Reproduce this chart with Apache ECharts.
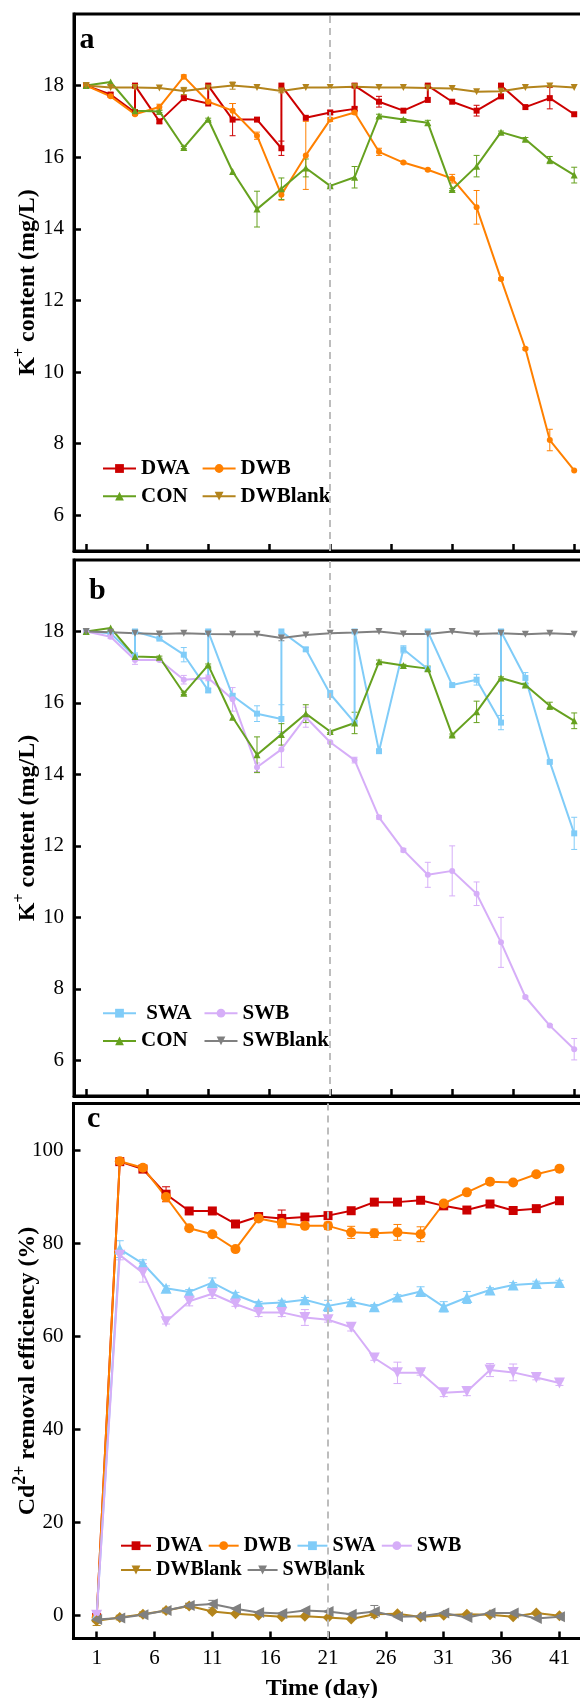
<!DOCTYPE html>
<html><head><meta charset="utf-8">
<script src="https://cdn.jsdelivr.net/npm/echarts@6/dist/echarts.min.js"></script>
<style>html,body{margin:0;padding:0;overflow:hidden;background:#fff}#c{width:640px;height:1698px}</style>
</head><body><div id="c"></div>
<script>
// ---------- DATA ----------
const days = [1,3,5,7,9,11,13,15,17,19,21,23,25,27,29,31,33,35,37,39,41];
// DWA and SWA are replenished on days 5, 11, 17, 23, 29, 35 (value before, then 18 after)
const sawDays = [1,3,5,5,7,9,11,11,13,15,17,17,19,21,23,23,25,27,29,29,31,33,35,35,37,39,41];
const xTicks = [1,6,11,16,21,26,31,36,41];
const kTicks = [6,8,10,12,14,16,18];
const cdTicks = [0,20,40,60,80,100];

// Panel a (K+ content, mg/L)
const dwaK    = [18.0,17.75,17.25,18.0,17.0,17.65,17.5,18.0,17.05,17.05,16.25,18.0,17.1,17.25,17.35,18.0,17.55,17.3,17.6,18.0,17.55,17.3,17.7,18.0,17.4,17.65,17.2];
const dwaKErr = [0,0.05,0,0,0.05,0.05,0,0,0.45,0.05,0.2,0,0,0.05,0.05,0,0.15,0,0,0,0,0.15,0,0,0,0.3,0];
const dwbK    = [18.0,17.7,17.2,17.4,18.25,17.55,17.3,16.6,14.95,16.05,17.05,17.25,16.15,15.85,15.65,15.4,14.6,12.6,10.65,8.1,7.25];
const dwbKErr = [0,0.03,0.03,0.08,0.05,0.05,0.2,0.1,0.15,0.95,0.05,0.05,0.1,0.03,0.03,0.12,0.47,0.03,0.03,0.3,0];
const conK    = [18.0,18.1,17.3,17.28,16.27,17.06,15.6,14.55,15.12,15.7,15.2,15.44,17.15,17.05,16.96,15.1,15.75,16.7,16.5,15.92,15.5];
const conKErr = [0,0,0.03,0.03,0.03,0.03,0,0.5,0.3,0.25,0.03,0.3,0.05,0.03,0.07,0.03,0.3,0.03,0.05,0.1,0.22];
const dwBlankK    = [18.0,17.95,17.95,17.93,17.85,17.93,18.0,17.95,17.85,17.95,17.95,17.97,17.95,17.95,17.93,17.92,17.83,17.84,17.95,17.99,17.95];
const dwBlankKErr = [0,0,0,0,0.1,0,0.1,0,0.05,0,0,0,0,0,0,0,0,0,0,0,0];

// Panel b (K+ content, mg/L)
const swaK    = [18.0,17.95,17.3,18.0,17.8,17.35,16.35,18.0,16.2,15.7,15.55,18.0,17.5,16.25,15.45,18.0,14.65,17.5,16.95,18.0,16.5,16.65,15.45,18.0,16.7,14.35,12.35];
const swaKErr = [0,0.03,0.1,0,0.03,0.2,0.05,0,0.05,0.22,0.4,0,0.05,0.1,0.05,0,0,0.1,0.05,0,0.03,0.15,0.2,0,0.15,0.03,0.45];
const swbK    = [18.0,17.85,17.2,17.2,16.65,16.7,16.1,14.2,14.7,15.6,14.9,14.4,12.8,11.88,11.19,11.3,10.66,9.3,7.77,6.97,6.31];
const swbKErr = [0,0.05,0.12,0.03,0.12,0.08,0.33,0.12,0.5,0.28,0.03,0.08,0.05,0.05,0.35,0.7,0.33,0.7,0.03,0.03,0.3];
const swBlankK    = [18.0,17.98,17.95,17.93,17.95,17.93,17.92,17.92,17.82,17.9,17.95,17.97,18.0,17.93,17.93,18.0,17.93,17.95,17.92,17.95,17.92];
const swBlankKErr = [0,0,0,0,0,0,0,0,0.08,0,0,0,0,0,0,0,0,0,0,0,0];

// Panel c (Cd2+ removal efficiency, %)
const dwaCd    = [-0.5,97.5,95.9,90.5,86.9,86.9,84.1,85.7,85.3,85.6,85.9,86.95,88.8,88.8,89.2,88.0,87.1,88.4,87.0,87.4,89.1];
const dwaCdErr = [0.5,0.5,0.5,1.6,0,0,0,0,1.8,0,0,0,0,0,0,0,0,0,0,0,0];
const dwbCd    = [-0.5,97.6,96.2,89.9,83.2,81.9,78.7,85.3,84.3,83.7,83.7,82.3,82.1,82.3,81.9,88.5,90.9,93.2,93.0,94.8,96.0];
const dwbCdErr = [0,0,0,1.0,0,0.5,0,0,1.0,0,0.8,1.3,0.9,1.7,1.6,0,0,0,0,0,0];
const swaCd    = [0,78.7,75.6,70.3,69.5,71.5,68.9,66.95,67.2,67.8,66.5,67.4,66.3,68.4,69.6,66.3,68.3,69.9,71.0,71.3,71.5];
const swaCdErr = [0.5,1.8,0.8,0.5,0.5,1.0,0.5,0.5,0.5,0.5,1.2,0.5,0.5,0.5,1.0,1.1,1.3,0.5,0.5,0.5,0.5];
const swbCd    = [0,77.4,73.6,63.1,67.5,69.1,66.9,65.1,65.1,64.0,63.5,61.9,55.3,52.1,52.1,47.8,48.1,52.7,52.2,51.1,49.9];
const swbCdErr = [0.5,1.0,2.0,0.5,1.0,1.0,0.5,0.9,0.9,1.7,0.5,0.8,0.5,2.3,0.5,0.8,0.9,1.4,1.8,0.5,0.5];
const dwBlankCd    = [-1.2,-0.5,0.2,1.0,2.0,0.8,0.3,0.0,-0.3,-0.2,-0.5,-0.8,0.2,0.3,-0.4,0.0,0.2,0.1,-0.3,0.5,-0.1];
const dwBlankCdErr = [1.0,0.5,0.5,0.5,0.5,0.3,0,0,0,0,0,0,0,0,0,0,0,0,0,0,0];
const swBlankCd    = [-0.9,-0.6,0.1,1.0,2.1,2.4,1.4,0.6,0.4,1.0,0.8,0.2,0.8,-0.3,-0.2,0.5,-0.5,0.5,0.5,-0.7,-0.3];
const swBlankCdErr = [0.5,0,0,0,0.5,0.8,0,0,0,0,0,0,1.3,0,0,0,0,0,0,0,0];

// ---------- STYLE ----------
const FONT = 'Liberation Serif';
const COL = {dwa:'#cc0000', dwb:'#ff8000', con:'#66a11f', dwbl:'#b3841c', swa:'#80ccf8', swb:'#d6aef8', swbl:'#808080'};
const DOWN = 'path://M0,0L10,0L5,9Z';
const LEFT = 'path://M9,0L9,10L0,5Z';

function line(name, idx, xs, ys, color, symbol, size, extra) {
  return Object.assign({
    type:'line', name, xAxisIndex:idx, yAxisIndex:idx,
    data: xs.map((d,i)=>[d, ys[i]]),
    symbol, symbolSize:size, showSymbol:true,
    lineStyle:{width:2, color}, itemStyle:{color},
    emphasis:{disabled:true}, z:3, animation:false
  }, extra || {});
}
function err(idx, xs, ys, es, color, cap) {
  const data = [];
  ys.forEach((v,i)=>{ if (es[i] > 0) data.push([xs[i], v, es[i]]); });
  return {
    type:'custom', xAxisIndex:idx, yAxisIndex:idx, data, silent:true, z:2,
    encode:{x:0, y:1}, animation:false,
    renderItem:(params, api)=>{
      const x = api.value(0), y = api.value(1), e = api.value(2);
      const p1 = api.coord([x, y+e]), p2 = api.coord([x, y-e]);
      const st = {stroke:color, lineWidth:1};
      return {type:'group', children:[
        {type:'line', shape:{x1:p1[0], y1:p1[1], x2:p2[0], y2:p2[1]}, style:st},
        {type:'line', shape:{x1:p1[0]-cap, y1:p1[1], x2:p1[0]+cap, y2:p1[1]}, style:st},
        {type:'line', shape:{x1:p2[0]-cap, y1:p2[1], x2:p2[0]+cap, y2:p2[1]}, style:st}
      ]};
    }
  };
}
const dash = {silent:true, symbol:['none','none'], label:{show:false},
  lineStyle:{color:'#bdbdbd', type:[7,5], width:2}, emphasis:{disabled:true}, data:[{xAxis:21}]};

const nameRich = {
  a:{fontSize:24, fontWeight:'bold', fontFamily:FONT, color:'#000', lineHeight:30},
  s:{fontSize:16, fontWeight:'bold', fontFamily:FONT, color:'#000', lineHeight:14, padding:[0,0,16,0]},
  s2:{fontSize:18, fontWeight:'bold', fontFamily:FONT, color:'#000', lineHeight:16, padding:[0,0,14,0]}
};
const gridBase = {show:true, borderColor:'#000', borderWidth:3, backgroundColor:'transparent', outerBoundsMode:'none', containLabel:false};
function xAx(idx, min, max, labels) {
  return {gridIndex:idx, type:'value', min, max,
    axisLine:{show:true, onZero:false, lineStyle:{color:'#000', width:3}},
    axisTick:{show:true, inside:true, length:7, lineStyle:{color:'#000', width:2.5}, customValues:xTicks},
    axisLabel:labels ? {show:true, customValues:xTicks, fontSize:21, fontFamily:FONT, color:'#000', margin:9} : {show:false},
    splitLine:{show:false}};
}
function yAx(idx, min, max, ticks, name, gap) {
  return {gridIndex:idx, type:'value', min, max,
    axisLine:{show:true, onZero:false, lineStyle:{color:'#000', width:3}},
    axisTick:{show:true, inside:true, length:7, lineStyle:{color:'#000', width:2.5}, customValues:ticks},
    axisLabel:{customValues:ticks, fontSize:21, fontFamily:FONT, color:'#000', margin:10},
    splitLine:{show:false},
    name, nameLocation:'middle', nameGap:gap, nameMoveOverlap:false, nameTextStyle:{rich:nameRich}};
}
const legText = (fs)=>({fontSize:fs, fontWeight:'bold', fontFamily:FONT, color:'#000', lineHeight:20});
function leg(data, left, top, orient, fs, iw, gap, fmt) {
  const o = {data, left, top, orient, padding:0, itemWidth:iw, itemHeight:11, itemGap:gap,
    selectedMode:false, textStyle:legText(fs)};
  if (fmt) o.formatter = fmt;
  return o;
}

const option = {
  animation:false,
  backgroundColor:'#fff',
  grid:[
    Object.assign({left:74, top:14, width:44*12.2, height:537}, gridBase),
    Object.assign({left:74, top:560, width:44*12.2, height:536}, gridBase),
    Object.assign({left:73.5, top:1103.5, width:45*11.57, height:535}, gridBase)
  ],
  xAxis:[ xAx(0,0,44,false), xAx(1,0,44,false), Object.assign(xAx(2,-1,44,true), {
      name:'Time (day)', nameLocation:'middle', nameGap:36, nameMoveOverlap:false,
      nameTextStyle:{fontSize:24, fontWeight:'bold', fontFamily:FONT, color:'#000', lineHeight:28, padding:[0,24,0,0]}}) ],
  yAxis:[
    yAx(0,5,20,kTicks,'{a|K}{s|+}{a| content (mg/L)}',31),
    yAx(1,5,20,kTicks,'{a|K}{s|+}{a| content (mg/L)}',31),
    yAx(2,-5,110,cdTicks,'{a|Cd}{s2|2+}{a| removal efficiency (%)}',31)
  ],
  legend:[
    leg(['DWA','CON'], 102, 458, 'vertical', 21, 33, 6.7),
    leg(['DWB','DWBlank'], 201.6, 458, 'vertical', 21, 33, 6.7),
    leg(['SWA','CON'], 102, 1002.7, 'vertical', 21, 33, 6.7, n => n === 'SWA' ? ' SWA' : n),
    leg(['SWB','SWBlank'], 203.5, 1002.7, 'vertical', 21, 33, 6.7),
    leg(['DWA','DWB','SWA','SWB'], 120, 1535.7, 'horizontal', 20, 30, 5),
    leg(['DWBlank','SWBlank'], 120, 1560, 'horizontal', 20, 30, 5)
  ],
  graphic:[
    {type:'text', x:79.5, y:40, style:{text:'a', font:'bold 30px "Liberation Serif"', fill:'#000', textVerticalAlign:'middle'}},
    {type:'text', x:89, y:591, style:{text:'b', font:'bold 30px "Liberation Serif"', fill:'#000', textVerticalAlign:'middle'}},
    {type:'text', x:87, y:1119, style:{text:'c', font:'bold 30px "Liberation Serif"', fill:'#000', textVerticalAlign:'middle'}}
  ],
  series:[
    // panel a
    err(0, sawDays, dwaK, dwaKErr, COL.dwa, 3),
    err(0, days, dwbK, dwbKErr, COL.dwb, 3),
    err(0, days, conK, conKErr, COL.con, 3),
    err(0, days, dwBlankK, dwBlankKErr, COL.dwbl, 3),
    line('DWA', 0, sawDays, dwaK, COL.dwa, 'rect', 6, {markLine:dash}),
    line('DWB', 0, days, dwbK, COL.dwb, 'circle', 6),
    line('CON', 0, days, conK, COL.con, 'triangle', 7),
    line('DWBlank', 0, days, dwBlankK, COL.dwbl, DOWN, 7),
    // panel b
    err(1, sawDays, swaK, swaKErr, COL.swa, 3),
    err(1, days, swbK, swbKErr, COL.swb, 3),
    err(1, days, conK, conKErr, COL.con, 3),
    err(1, days, swBlankK, swBlankKErr, COL.swbl, 3),
    line('SWA', 1, sawDays, swaK, COL.swa, 'rect', 6, {markLine:dash}),
    line('SWB', 1, days, swbK, COL.swb, 'circle', 6),
    line('CON', 1, days, conK, COL.con, 'triangle', 7),
    line('SWBlank', 1, days, swBlankK, COL.swbl, DOWN, 7),
    // panel c
    err(2, days, dwaCd, dwaCdErr, COL.dwa, 4),
    err(2, days, dwbCd, dwbCdErr, COL.dwb, 4),
    err(2, days, swaCd, swaCdErr, COL.swa, 4),
    err(2, days, swbCd, swbCdErr, COL.swb, 4),
    err(2, days, dwBlankCd, dwBlankCdErr, COL.dwbl, 4),
    err(2, days, swBlankCd, swBlankCdErr, COL.swbl, 4),
    line('DWA', 2, days, dwaCd, COL.dwa, 'rect', 9, {markLine:dash}),
    line('DWB', 2, days, dwbCd, COL.dwb, 'circle', 10),
    line('SWA', 2, days, swaCd, COL.swa, 'triangle', 11),
    line('SWB', 2, days, swbCd, COL.swb, DOWN, 11),
    line('DWBlank', 2, days, dwBlankCd, COL.dwbl, 'diamond', 11),
    line('SWBlank', 2, days, swBlankCd, COL.swbl, LEFT, 11)
  ]
};
const chart = echarts.init(document.getElementById('c'), null, {renderer:'canvas'});
chart.setOption(option);
</script></body></html>
